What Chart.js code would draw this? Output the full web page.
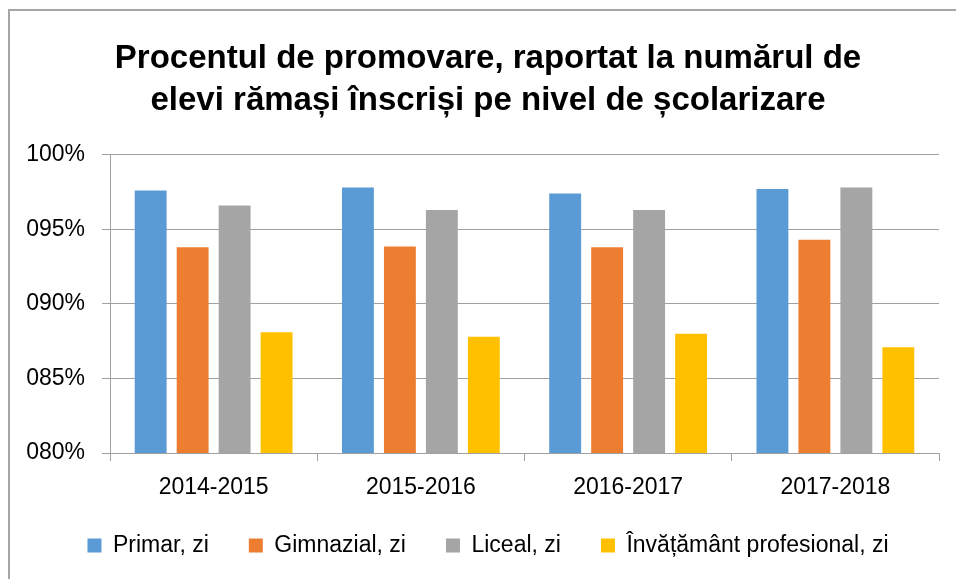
<!DOCTYPE html>
<html>
<head>
<meta charset="utf-8">
<script src="https://cdn.jsdelivr.net/npm/chart.js@4"></script>
<style>
  html, body { margin: 0; padding: 0; background: #fff; overflow: hidden; }
  #wrap { position: relative; width: 956px; height: 579px; overflow: hidden; }
  #frame { position: absolute; left: 8px; top: 9px; width: 1000px; height: 600px;
           border-top: 2px solid #a6a6a6; border-left: 2px solid #a6a6a6; }
  #box { position: absolute; left: 0; top: 0; width: 976px; height: 579px; }
</style>
</head>
<body>
<div id="wrap">
  <div id="frame"></div>
  <div id="box"><canvas id="c"></canvas></div>
</div>
<script>
// =========================
// データ
// =========================
const titleLines = [
  "Procentul de promovare, raportat la numărul de",
  "elevi rămași înscriși pe nivel de școlarizare"
];
const years = ["2014-2015", "2015-2016", "2016-2017", "2017-2018"];
const yTickLabels = ["080%", "085%", "090%", "095%", "100%"];

const primar = [97.6, 97.8, 97.4, 97.7];
const gimnazial = [93.8, 93.85, 93.8, 94.3];
const liceal = [96.6, 96.3, 96.3, 97.8];
const profesional = [88.1, 87.8, 88.0, 87.1];

const seriesNames = ["Primar, zi", "Gimnazial, zi", "Liceal, zi", "Învățământ profesional, zi"];
const seriesColors = ["#5b9bd5", "#ed7d31", "#a5a5a5", "#ffc000"];

// =========================
// グラフ描画
// =========================
const FONT = "'Liberation Sans', Arial, sans-serif";
const gridColor = "#a0a0a0";

const allSeries = [primar, gimnazial, liceal, profesional];

new Chart(document.getElementById("c"), {
  type: "bar",
  data: {
    labels: years,
    datasets: allSeries.map((d, i) => ({
      label: seriesNames[i],
      data: d,
      backgroundColor: seriesColors[i],
      borderWidth: 0,
      categoryPercentage: 0.81,
      barPercentage: 0.76,
    })),
  },
  options: {
    responsive: true,
    maintainAspectRatio: false,
    animation: false,
    layout: { padding: { left: 0, right: 0, top: 0, bottom: 12 } },
    plugins: {
      tooltip: { enabled: false },
      title: {
        display: true,
        text: titleLines,
        color: "#000",
        font: { family: FONT, size: 33, weight: "bold", lineHeight: 1.3 },
        padding: { top: 37, bottom: 32 },
      },
      legend: {
        position: "bottom",
        labels: {
          color: "#000",
          font: { family: FONT, size: 23 },
          boxWidth: 14,
          boxHeight: 14,
          padding: 40,
        },
      },
    },
    scales: {
      x: {
        afterFit: (s) => { s.height = 41; },
        grid: {
          offset: true,
          drawOnChartArea: false,
          drawTicks: true,
          tickLength: 8,
          color: gridColor,
        },
        border: { display: true, color: gridColor, width: 1 },
        ticks: { color: "#000", font: { family: FONT, size: 23 }, padding: 13 },
      },
      y: {
        min: 80,
        max: 100,
        afterFit: (s) => { s.width = 110; },
        grid: { color: gridColor, tickLength: 8, drawTicks: true },
        border: { display: true, color: gridColor, width: 1 },
        ticks: {
          stepSize: 5,
          color: "#000",
          font: { family: FONT, size: 23 },
          padding: 17,
          callback: (v, i) => yTickLabels[i],
        },
      },
      // 右側の余白用（何も描かない）
      yPad: {
        position: "right",
        afterFit: (s) => { s.width = 37; },
        grid: { display: false },
        border: { display: false },
        ticks: { display: false },
      },
    },
  },
});
</script>
</body>
</html>
